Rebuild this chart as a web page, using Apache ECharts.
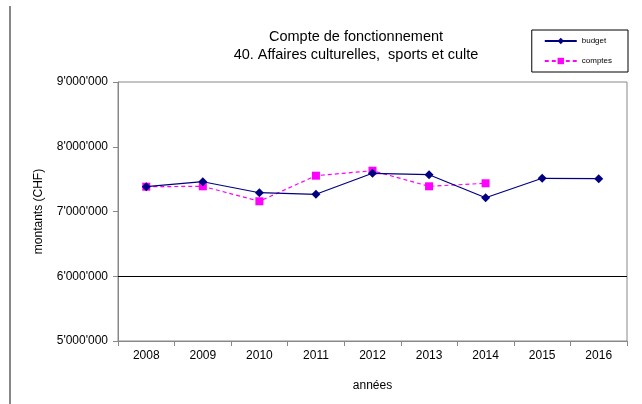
<!DOCTYPE html>
<html><head><meta charset="utf-8">
<script src="https://cdn.jsdelivr.net/npm/echarts@6/dist/echarts.min.js"></script>
<style>html,body{margin:0;padding:0;background:#fff}#c{width:642px;height:404px}</style>
</head><body><div id="c"></div>
<script>
const categories = ['2008','2009','2010','2011','2012','2013','2014','2015','2016'];
const budget = [7383000, 7460000, 7290000, 7266000, 7590000, 7568000, 7213000, 7513000, 7507000];
const comptes = [7383000, 7389000, 7158000, 7553000, 7630000, 7389000, 7436000, null, null];
const yTicks = [5000000, 6000000, 7000000, 8000000, 9000000];

const chart = echarts.init(document.getElementById('c'));
const fmt = v => String(v).replace(/\B(?=(\d{3})+(?!\d))/g, "'");
chart.setOption({
  animation: false,
  textStyle: {fontFamily: 'Liberation Sans, Arial, sans-serif'},
  title: {
    text: 'Compte de fonctionnement\n40. Affaires culturelles,  sports et culte',
    left: 351, top: 23, textAlign: 'center',
    textStyle: {fontSize: 14.5, fontWeight: 'normal', color: '#000', lineHeight: 18}
  },
  legend: {
    orient: 'vertical', right: 14, top: 30,
    borderColor: '#000', borderWidth: 1, padding: [7, 16, 7, 12],
    itemWidth: 32, itemHeight: 8, itemGap: 12,
    textStyle: {fontSize: 8, color: '#000'},
    data: ['budget', 'comptes']
  },
  graphic: [{
    type: 'line', shape: {x1: 10, y1: 6, x2: 10, y2: 404},
    style: {stroke: '#888', lineWidth: 2}
  }],
  grid: {left: 118, right: 15, top: 82, bottom: 63, show: true, borderColor: '#888', borderWidth: 1, backgroundColor: 'transparent'},
  xAxis: {
    type: 'category', data: categories, boundaryGap: true,
    name: 'années', nameLocation: 'middle', nameGap: 39,
    nameTextStyle: {fontSize: 12, color: '#000'},
    axisLine: {lineStyle: {color: '#888'}},
    axisTick: {show: true, alignWithLabel: false, length: 5, lineStyle: {color: '#888'}},
    axisLabel: {fontSize: 12, color: '#000', margin: 9}
  },
  yAxis: {
    type: 'value', min: 5000000, max: 9000000, interval: 1000000,
    name: 'montants (CHF)', nameLocation: 'middle', nameGap: 73, nameRotate: 90,
    nameTextStyle: {fontSize: 12, color: '#000'},
    axisLine: {show: true, lineStyle: {color: '#888'}},
    axisTick: {show: true, length: 5, lineStyle: {color: '#888'}},
    splitLine: {show: false},
    axisLabel: {fontSize: 12, color: '#000', margin: 10, formatter: v => yTicks.includes(v) ? fmt(v) : ''}
  },
  series: [{
    name: 'budget', type: 'line', data: budget,
    symbol: 'diamond', symbolSize: 9,
    itemStyle: {color: '#000080'},
    lineStyle: {color: '#000080', width: 1.2},
    markLine: {
      silent: true, symbol: 'none', label: {show: false},
      lineStyle: {color: '#000', type: 'solid', width: 1.2},
      data: [{yAxis: 6000000}]
    },
    z: 3
  }, {
    name: 'comptes', type: 'line', data: comptes,
    symbol: 'rect', symbolSize: 8,
    itemStyle: {color: '#ff00ff'},
    lineStyle: {color: '#ff00ff', width: 1.2, type: [4, 3]},
    z: 2
  }]
});
</script></body></html>
